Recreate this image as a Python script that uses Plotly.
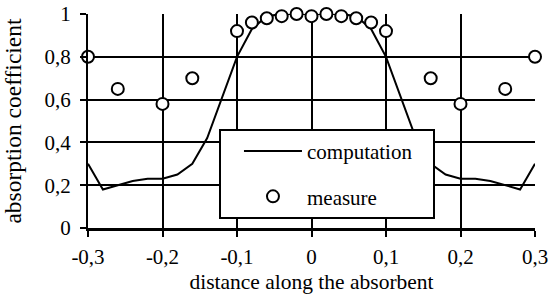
import plotly.graph_objects as go

# computation (curve)
comp_x = [-0.30, -0.28, -0.26, -0.24, -0.22, -0.20, -0.18, -0.16, -0.14, -0.12, -0.10,
          -0.08, -0.06, -0.04, -0.02, 0.00, 0.02, 0.04, 0.06, 0.08, 0.10, 0.12, 0.14,
          0.16, 0.18, 0.20, 0.22, 0.24, 0.26, 0.28, 0.30]
comp_y = [0.30, 0.18, 0.20, 0.22, 0.23, 0.23, 0.25, 0.30, 0.42, 0.61, 0.80,
          0.93, 0.99, 1.00, 1.00, 1.00, 1.00, 1.00, 0.99, 0.93, 0.80, 0.61, 0.42,
          0.30, 0.25, 0.23, 0.23, 0.22, 0.20, 0.18, 0.30]

# measure (points)
meas_x = [-0.30, -0.26, -0.20, -0.16, -0.10, -0.08, -0.06, -0.04, -0.02, 0.00,
          0.02, 0.04, 0.06, 0.08, 0.10, 0.16, 0.20, 0.26, 0.30]
meas_y = [0.80, 0.65, 0.58, 0.70, 0.92, 0.96, 0.98, 0.99, 1.00, 0.99,
          1.00, 0.99, 0.98, 0.96, 0.92, 0.70, 0.58, 0.65, 0.80]

x_ticks = [-0.3, -0.2, -0.1, 0.0, 0.1, 0.2, 0.3]
x_labels = ["-0,3", "-0,2", "-0,1", "0", "0,1", "0,2", "0,3"]
y_ticks = [0, 0.2, 0.4, 0.6, 0.8, 1.0]
y_labels = ["0", "0,2", "0,4", "0,6", "0,8", "1"]

FONT = "Liberation Serif"
PAD = "\u00a0" * 3  # widen the legend box to the reference size

fig = go.Figure()
fig.add_trace(go.Scatter(
    x=comp_x, y=comp_y, mode="lines", name="computation" + PAD,
    line=dict(color="black", width=2), legendgroup="a", cliponaxis=False))
fig.add_trace(go.Scatter(
    x=meas_x, y=meas_y, mode="markers", name="measure",
    marker=dict(symbol="circle", size=12, color="white",
                line=dict(color="black", width=2)),
    legendgroup="b", cliponaxis=False))

fig.update_layout(
    width=550, height=300,
    margin=dict(l=88, r=15, t=14, b=72, autoexpand=False),
    paper_bgcolor="white", plot_bgcolor="white",
    font=dict(family=FONT, size=21, color="black"),
    showlegend=True,
    legend=dict(
        x=0.293, y=0.463, xanchor="left", yanchor="top",
        bgcolor="white", bordercolor="black", borderwidth=2,
        font=dict(family=FONT, size=21, color="black"),
        tracegroupgap=15, itemwidth=58, indentation=18,
    ),
    xaxis=dict(
        range=[-0.3, 0.3], tickvals=x_ticks, ticktext=x_labels,
        showgrid=True, gridcolor="black", gridwidth=2,
        showline=True, linecolor="black", linewidth=3, mirror=False,
        ticks="outside", ticklen=6, tickwidth=2, tickcolor="black",
        zeroline=False, automargin=False, ticklabelstandoff=2,
        ticklabeloverflow="allow",
        title=dict(text="distance along the absorbent", standoff=6,
                   font=dict(family=FONT, size=21.5)),
        tickfont=dict(family=FONT, size=21),
    ),
    yaxis=dict(
        range=[0, 1], tickvals=y_ticks, ticktext=y_labels,
        showgrid=True, gridcolor="black", gridwidth=2,
        showline=True, linecolor="black", linewidth=2,
        ticks="outside", ticklen=6, tickwidth=2, tickcolor="black",
        zeroline=False, automargin=False, ticklabelstandoff=5,
        ticklabeloverflow="allow",
        title=dict(text="absorption coefficient", standoff=17,
                   font=dict(family=FONT, size=23.5)),
        tickfont=dict(family=FONT, size=21),
    ),
)

fig.write_html("out.html", config={"displayModeBar": False},
               post_script="document.body.style.margin='0';")
